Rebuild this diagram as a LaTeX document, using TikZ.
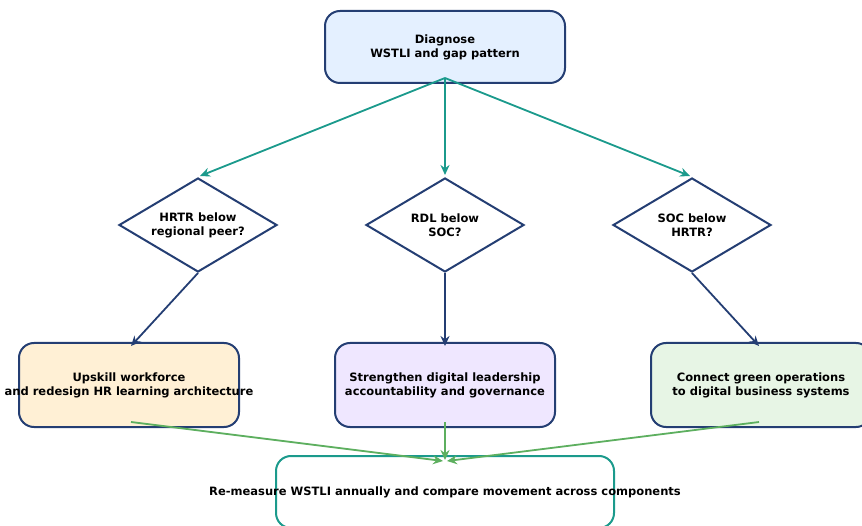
\documentclass[tikz,border=0pt]{standalone}
\usepackage{fontspec}
\setmainfont{DejaVu Sans}
\usetikzlibrary{shapes.geometric,arrows.meta,calc}
\definecolor{navy}{HTML}{243E73}
\definecolor{teal2}{HTML}{1B9A8C}
\definecolor{grn}{HTML}{5DAF5F}
\definecolor{fblue}{HTML}{E4F0FF}
\definecolor{fcream}{HTML}{FFF0D5}
\definecolor{flav}{HTML}{EFE7FF}
\definecolor{fgreen}{HTML}{E7F5E5}
\begin{document}
\begin{tikzpicture}[x=1pt,y=-1pt,
  boxshape/.style={draw=navy,line width=2pt,rounded corners=15pt,minimum width=220pt,minimum height=84pt,inner sep=0pt},
  dia/.style={diamond,draw=navy,line width=2pt,minimum width=158pt,minimum height=94pt,inner sep=0pt,fill=white},
  txt/.style={font=\bfseries\fontsize{11.5}{14}\selectfont,align=center},
  tarr/.style={draw=teal2,line width=1.8pt,-{Stealth[length=10pt,width=9pt]}},
  narr/.style={draw=navy,line width=1.8pt,-{Stealth[length=10pt,width=9pt]}},
  garr/.style={draw=grn,line width=1.8pt,-{Stealth[length=10pt,width=9pt]}}]
\useasboundingbox (0,0) rectangle (862,526);
\begin{scope}
\clip (0,0) rectangle (862,526);
\node[boxshape,fill=fblue,minimum width=240pt,minimum height=72pt] (top) at (445,47) {};
\node[txt] at (top) {Diagnose\\WSTLI and gap pattern};
\node[dia] (d1) at (198,225) {};
\node[txt] at (d1) {HRTR below\\regional peer?};
\node[dia] (d2) at (445,225) {};
\node[txt] at (d2) {RDL below\\SOC?};
\node[dia] (d3) at (692,225) {};
\node[txt] at (d3) {SOC below\\HRTR?};
\node[boxshape,fill=fcream] (b1) at (129,385) {};
\node[txt] at (b1) {Upskill workforce\\and redesign HR learning architecture};
\node[boxshape,fill=flav] (b2) at (445,385) {};
\node[txt] at (b2) {Strengthen digital leadership\\accountability and governance};
\node[boxshape,fill=fgreen] (b3) at (761,385) {};
\node[txt] at (b3) {Connect green operations\\to digital business systems};
\node[boxshape,draw=teal2,fill=white,minimum width=338pt,minimum height=72pt] (fin) at (445,492) {};
\node[txt] at (fin) {Re-measure WSTLI annually and compare movement across components};
\coordinate (ts) at ($(top.south)+(0,-6)$);
\draw[tarr] (ts) -- ($(d1.north)+(2,-1)$);
\draw[tarr] (ts) -- ($(d2.north)+(0,-2)$);
\draw[tarr] (ts) -- ($(d3.north)+(-2,-1)$);
\draw[narr] (d1.south) -- ($(b1.north)+(2,4)$);
\draw[narr] (d2.south) -- ($(b2.north)+(0,4)$);
\draw[narr] (d3.south) -- ($(b3.north)+(-2,4)$);
\coordinate (g1) at ($(b1.south)+(2,-6)$);
\coordinate (g2) at ($(b2.south)+(0,-6)$);
\coordinate (g3) at ($(b3.south)+(-2,-6)$);
\draw[garr] (g1) -- ($(fin.north)+(-2,6)$);
\draw[garr] (g2) -- ($(fin.north)+(0,5)$);
\draw[garr] (g3) -- ($(fin.north)+(2,6)$);
\end{scope}
\end{tikzpicture}
\end{document}
